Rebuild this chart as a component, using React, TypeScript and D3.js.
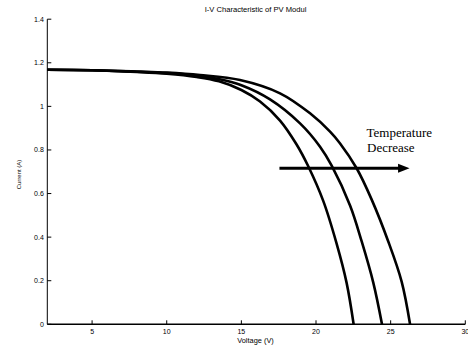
import React from "react";
import * as d3 from "d3";

const W = 468;
const H = 349;

// Voltage (V) / Current (A) samples, one array pair per curve
const voltHot = [2, 5, 8, 10, 12, 13.5, 15, 16.25, 17.59, 18.7, 19.48, 20.49, 21.38, 22.05, 22.52];
const currHot = [1.168, 1.166, 1.158, 1.15, 1.135, 1.115, 1.075, 1.022, 0.935, 0.825, 0.725, 0.565, 0.37, 0.19, 0];

const voltMid = [2, 5, 8, 10, 12, 13.5, 15, 16.92, 18.93, 20.27, 21.05, 22.28, 23.06, 23.84, 24.42];
const currMid = [1.168, 1.166, 1.159, 1.153, 1.142, 1.125, 1.097, 1.032, 0.922, 0.815, 0.728, 0.545, 0.38, 0.19, 0];

const voltCold = [2, 5, 8, 10, 12.23, 14.91, 17.59, 19.6, 20.94, 21.6, 22.72, 23.73, 24.84, 25.74, 26.3];
const currCold = [1.168, 1.166, 1.16, 1.155, 1.144, 1.121, 1.06, 0.968, 0.884, 0.831, 0.716, 0.572, 0.38, 0.195, 0];

const xTicks = [5, 10, 15, 20, 25, 30];
const yTicks = [0, 0.2, 0.4, 0.6, 0.8, 1, 1.2, 1.4];
const yTickLabels = ["0", "0.2", "0.4", "0.6", "0.8", "1", "1.2", "1.4"];

const arrowFrom = 17.55; // V
const arrowTo = 26.3; // V
const arrowAt = 0.716; // A

export default function App() {
  const x = d3.scaleLinear().domain([2, 30]).range([47.3, 465.3]);
  const y = d3.scaleLinear().domain([0, 1.4]).range([324.3, 19.2]);

  const series = [
    voltHot.map((v, i) => [v, currHot[i]]),
    voltMid.map((v, i) => [v, currMid[i]]),
    voltCold.map((v, i) => [v, currCold[i]]),
  ] as [number, number][][];

  const line = d3
    .line<[number, number]>()
    .x((d) => x(d[0]))
    .y((d) => y(d[1]))
    .curve(d3.curveCatmullRom.alpha(0.5));

  const sans = "'Liberation Sans', Arial, Helvetica, sans-serif";
  const serif = "'Liberation Serif', 'Times New Roman', serif";
  const ax0 = x(arrowFrom);
  const ax1 = x(arrowTo);
  const ay = y(arrowAt);

  return (
    <svg
      width={W}
      height={H}
      style={{ position: "absolute", left: 0, top: 0, background: "#fff" }}
    >
      <rect x={0} y={0} width={W} height={H} fill="#fff" />
      {/* title */}
      <text x={255.5} y={12} fontFamily={sans} fontSize={7.6} textAnchor="middle" fill="#000">
        I-V Characteristic of PV Modul
      </text>

      {/* axes */}
      <line x1={x(2)} x2={x(2)} y1={y(0)} y2={y(1.4)} stroke="#000" strokeWidth={1} />
      <line x1={x(2)} x2={x(30)} y1={y(0)} y2={y(0)} stroke="#000" strokeWidth={1.4} />

      {yTicks.map((t, i) => (
        <g key={"y" + i}>
          <line x1={x(2)} x2={x(2) + 4} y1={y(t)} y2={y(t)} stroke="#000" strokeWidth={1} />
          <text
            x={43.8}
            y={y(t)}
            dy="0.35em"
            fontFamily={sans}
            fontSize={7}
            textAnchor="end"
            fill="#000"
          >
            {yTickLabels[i]}
          </text>
        </g>
      ))}
      {xTicks.map((t, i) => (
        <g key={"x" + i}>
          <line x1={x(t)} x2={x(t)} y1={y(0)} y2={y(0) - 4} stroke="#000" strokeWidth={1} />
          <text x={x(t)} y={333.6} fontFamily={sans} fontSize={7} textAnchor="middle" fill="#000">
            {t}
          </text>
        </g>
      ))}

      <text x={255.5} y={343} fontFamily={sans} fontSize={7.4} textAnchor="middle" fill="#000">
        Voltage (V)
      </text>
      <text
        transform={`translate(20.5,174.5) rotate(-90)`}
        fontFamily={sans}
        fontSize={6}
        textAnchor="middle"
        fill="#000"
      >
        Current (A)
      </text>

      {/* curves */}
      {series.map((s, i) => (
        <path key={"c" + i} d={line(s) || ""} fill="none" stroke="#000" strokeWidth={2.6} />
      ))}

      {/* arrow */}
      <line x1={ax0} x2={ax1 - 10} y1={ay} y2={ay} stroke="#000" strokeWidth={3} />
      <path
        d={`M${ax1 - 12},${ay - 4.5} L${ax1 - 0.5},${ay} L${ax1 - 12},${ay + 4.5} Z`}
        fill="#000"
      />

      <text x={366.5} y={136.5} fontFamily={serif} fontSize={13} fill="#000">
        Temperature
      </text>
      <text x={367} y={151.5} fontFamily={serif} fontSize={13} fill="#000">
        Decrease
      </text>
    </svg>
  );
}
